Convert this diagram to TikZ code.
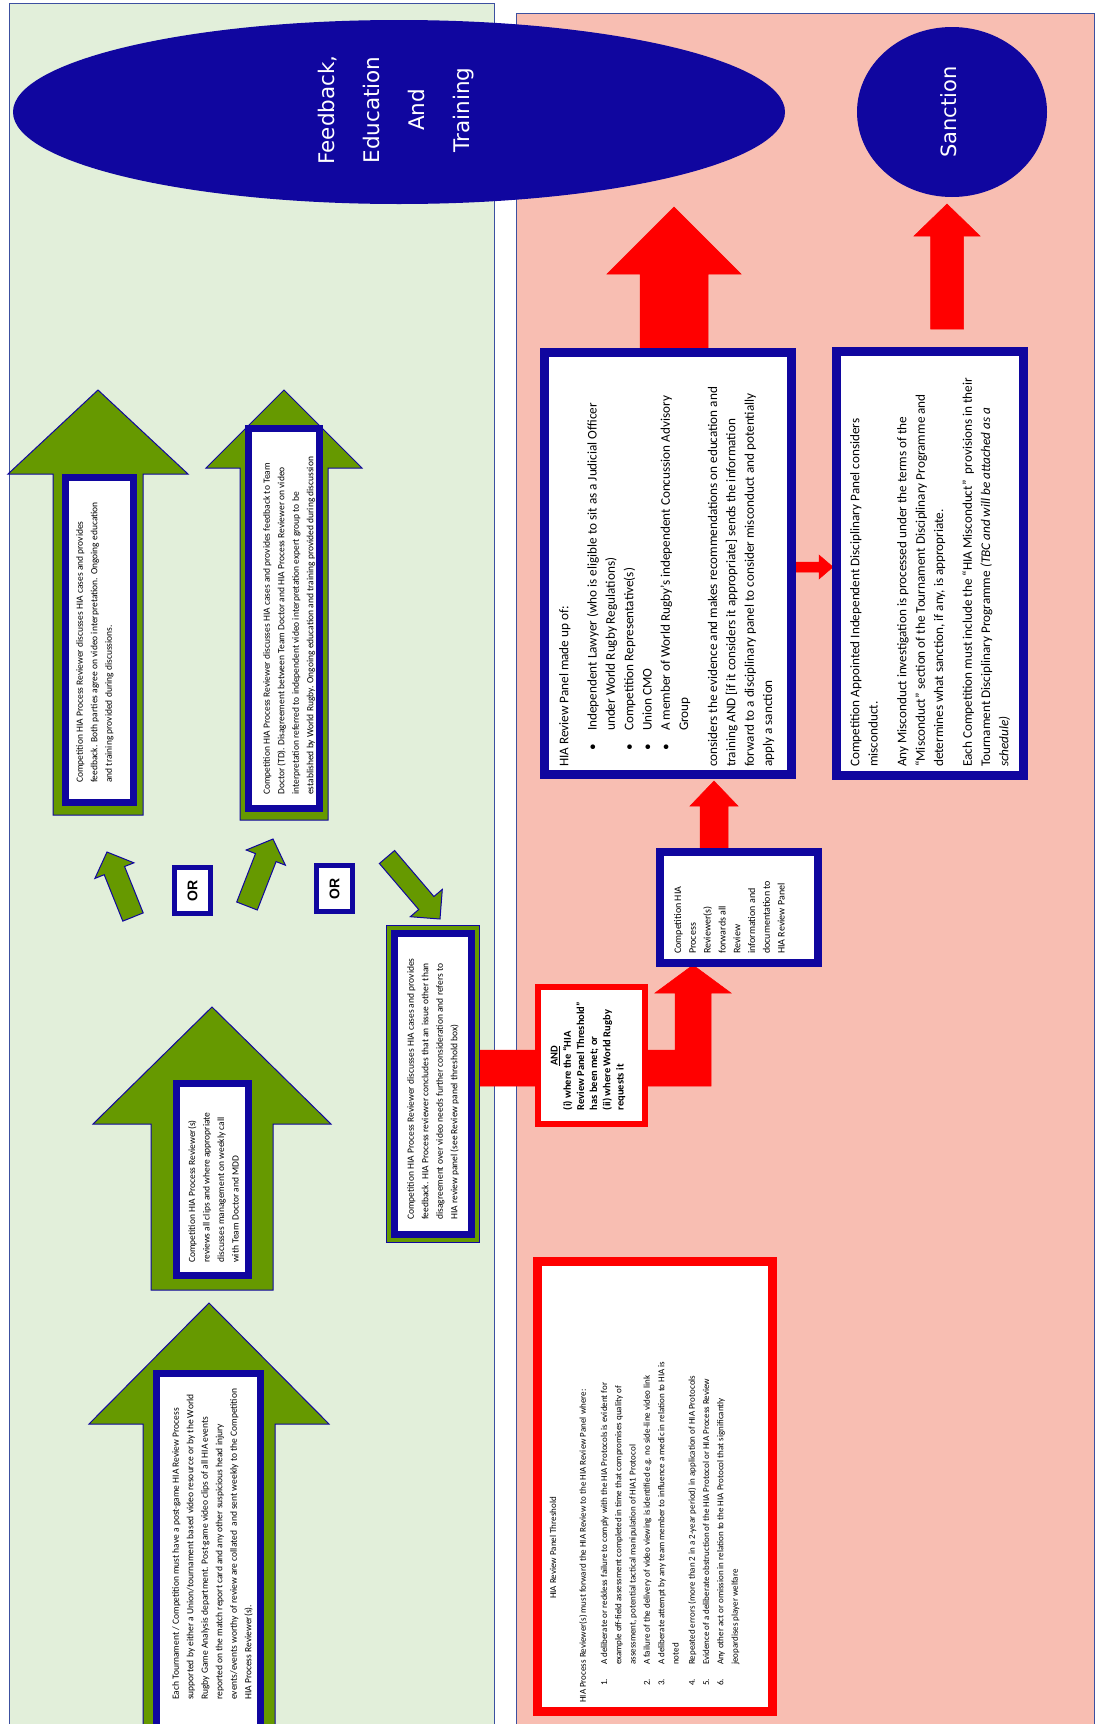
\documentclass[tikz,border=0pt]{standalone}
\usepackage{fontspec}
\setmainfont{Carlito}
\newfontfamily\verdfont{DejaVu Sans}
\newfontfamily\arialfont{Liberation Sans}
\usetikzlibrary{shapes.geometric}
\definecolor{navy}{RGB}{16,6,159}
\definecolor{garrowc}{RGB}{102,153,0}
\definecolor{greenbg}{RGB}{226,239,218}
\definecolor{pinkbg}{RGB}{248,190,178}
\definecolor{panelline}{RGB}{60,80,160}
\newcommand{\mkbox}[7]{\node[#2, line width=#3pt, inner sep=0pt, outer sep=0pt, minimum width={#6-#4-#3}, minimum height={#7-#5-#3}] (#1) at ({(#4+#6)/2},{(#5+#7)/2}) {};}
\newcommand{\bul}{\hspace*{16pt}\makebox[20pt][l]{•}}
\newcommand{\bulc}{\hspace*{36pt}}
\newcommand{\itm}[1]{\hspace*{17pt}\makebox[21pt][l]{#1}}
\newcommand{\cnt}{\hspace*{38pt}}
\begin{document}
\begin{tikzpicture}[x=1pt,y=-1pt,
  panel/.style={draw=panelline, line width=1pt},
  navybox/.style={draw=navy, fill=white, rectangle},
  redbox/.style={draw=red, fill=white, rectangle},
  greenband/.style={draw=navy, fill=garrowc, rectangle},
  garrow/.style={fill=garrowc, draw=navy, line width=1pt, line join=miter},
  rarrow/.style={fill=red, draw=red, line width=0.5pt, line join=miter},
  rt/.style={rotate=90, anchor=north west, align=left, inner sep=0pt},
  smallf/.style={font=\fontsize{9.5}{14.5}\selectfont},
  fwdf/.style={font=\fontsize{10}{14.8}\selectfont},
  threshf/.style={font=\fontsize{9}{14.3}\selectfont},
  discf/.style={font=\fontsize{13.2}{18.3}\selectfont}]
\useasboundingbox (0,0) rectangle (1097,1724);
\clip (0,0) rectangle (1097,1724);
% panels
\path[panel, fill=greenbg] (9,3) rectangle (494,1740);
\path[panel, fill=pinkbg] (516,13) rectangle (1094,1740);
% ellipses
\node[ellipse, fill=navy, inner sep=0pt, minimum width=772pt, minimum height=184pt] (fet) at (399,112) {};
\node[rotate=90, align=center, inner sep=0pt, text=white, font=\verdfont\fontsize{21.5}{45}\selectfont] (fettext) at (396,110) {Feedback,\\Education\\And\\Training};
\node[ellipse, fill=navy, inner sep=0pt, minimum width=190pt, minimum height=170pt] (sanc) at (952,112) {};
\node[rotate=90, inner sep=0pt, text=white, font=\verdfont\fontsize{21}{25}\selectfont] (sanctext) at (949,112) {Sanction};
% green arrows
\path[garrow] (143,1740) -- (143,1424) -- (89,1424) -- (209,1303) -- (329,1424) -- (275,1424) -- (275,1740) -- cycle;
\path[garrow] (151,1290) -- (151,1124) -- (93,1124) -- (212,1007) -- (331,1124) -- (273,1124) -- (273,1290) -- cycle;
\path[garrow] (53,815) -- (53,474) -- (8,474) -- (98,390) -- (188,474) -- (143,474) -- (143,815) -- cycle;
\path[garrow] (240,820) -- (240,468) -- (206,468) -- (284,390) -- (362,468) -- (328,468) -- (328,820) -- cycle;
% small green arrows
\path[garrow] (122.8,921.1) -- (104.2,874.7) -- (94.9,878.4) -- (107,852) -- (133.9,862.8) -- (124.6,866.5) -- (143.2,912.9) -- cycle;
\path[garrow] (236.7,902.0) -- (255.5,853.6) -- (246.2,850.0) -- (273,839) -- (285.4,865.2) -- (276.1,861.6) -- (257.3,910.0) -- cycle;
\path[garrow] (379.4,863.5) -- (418.7,909.5) -- (410.3,916.7) -- (440,919) -- (442.3,889.4) -- (433.9,896.5) -- (394.6,850.5) -- cycle;
% red arrows
\path[rarrow] (640,349) -- (640,274) -- (607,274) -- (674,207) -- (741,274) -- (708,274) -- (708,349) -- cycle;
\path[rarrow] (930.5,329) -- (930.5,236) -- (914,236) -- (947,204) -- (980,236) -- (963.5,236) -- (963.5,329) -- cycle;
\path[rarrow] (480,1050) -- (675,1050) -- (675,993) -- (655,993) -- (693,965) -- (731,993) -- (711,993) -- (711,1086) -- (480,1086) -- cycle;
\path[rarrow] (700,848) -- (700,806) -- (690,806) -- (714,781) -- (738,806) -- (728,806) -- (728,848) -- cycle;
\path[rarrow] (794,562) -- (819,562) -- (819,555) -- (833,567) -- (819,579) -- (819,572) -- (794,572) -- cycle;
% boxes
\mkbox{b1}{navybox}{7}{153}{1370}{264}{1745}
\mkbox{b2}{navybox}{7}{173}{1080}{252}{1279}
\mkbox{b3}{navybox}{7}{62}{474}{137}{806}
\mkbox{b4}{navybox}{7}{245}{425}{323}{812}
\mkbox{b5o}{greenband}{1}{386}{925}{480}{1243}
\mkbox{b5}{navybox}{7}{391}{930}{475}{1238}
\mkbox{or1}{navybox}{5}{172}{865}{213}{916}
\mkbox{or2}{navybox}{5}{314}{863}{355}{914}
\mkbox{andb}{redbox}{6}{535}{984}{648}{1127}
\mkbox{fwd}{navybox}{8}{656}{848}{822}{967}
\mkbox{hia}{navybox}{9}{540}{348}{796}{779}
\mkbox{disc}{navybox}{9}{832}{347}{1028}{780}
\mkbox{thr}{redbox}{9}{533}{1257}{777}{1716}
% texts
\node[rt, smallf] (t1) at (172,1700) {Each Tournament / Competition must have a post-game HIA Review Process\\
supported by either a Union/tournament based video resource or by the World\\
Rugby Game Analysis department. Post-game video clips of all HIA events\\
reported on the match report card and any other suspicious head injury\\
events/events worthy of review are collated \ and sent weekly to the Competition\\
HIA Process Reviewer(s).};
\node[rt, smallf] (t2) at (188,1263) {Competition HIA Process Reviewer(s)\\
reviews all clips and where appropriate\\
discusses management on weekly call\\
with Team Doctor and MDD};
\node[rt, smallf] (t3) at (76,783) {Competition HIA Process Reviewer discusses HIA cases and provides\\
feedback. Both parties agree on video interpretation. Ongoing education\\
and training provided during discussions.};
\node[rt, smallf] (t4) at (263,795) {Competition HIA Process Reviewer discusses HIA cases and provides feedback to Team\\
Doctor (TD). Disagreement between Team Doctor and HIA Process Reviewer on video\\
interpretation referred to independent video interpretation expert group to be\\
established by World Rugby. Ongoing education and training provided during discussion};
\node[rt, smallf] (t5) at (407,1220) {Competition HIA Process Reviewer discusses HIA cases and provides\\
feedback. HIA Process reviewer concludes that an issue other than\\
disagreement over video needs further consideration and refers to\\
HIA review panel (see Review panel threshold box)};
\node[rotate=90, inner sep=0pt, font=\arialfont\bfseries\fontsize{14}{16}\selectfont] (or1t) at (or1) {OR};
\node[rotate=90, inner sep=0pt, font=\arialfont\bfseries\fontsize{14}{16}\selectfont] (or2t) at (or2) {OR};
\node[rotate=90, inner sep=0pt, font=\bfseries\fontsize{10.5}{13.2}\selectfont] (andt) at (588,1056) {\begin{tabular}{@{}l@{}}\multicolumn{1}{@{}c@{}}{\underline{AND}}\\(i) where the “HIA\\Review Panel Threshold”\\has been met; or\\(ii) where World Rugby\\requests it\end{tabular}};
\node[rt, fwdf] (fwdt) at (674,954) {Competition HIA\\Process\\Reviewer(s)\\forwards all\\Review\\information and\\documentation to\\HIA Review Panel};
\node[rt, discf] (hiat) at (559,767) {HIA Review Panel made up of:\\[10pt]
\bul Independent Lawyer (who is eligible to sit as a Judicial Officer\\
\bulc under World Rugby Regulations)\\
\bul Competition Representative(s)\\
\bul Union CMO\\
\bul A member of World Rugby’s independent Concussion Advisory\\
\bulc Group\\[10.7pt]
considers the evidence and makes recommendations on education and\\
training AND [if it considers it appropriate] sends the information\\
forward to a disciplinary panel to consider misconduct and potentially\\
apply a sanction};
\node[rt, discf] (disct) at (850,767) {Competition Appointed Independent Disciplinary Panel considers\\
misconduct.\\[10.5pt]
Any Misconduct investigation is processed under the terms of the\\
“Misconduct” section of the Tournament Disciplinary Programme and\\
determines what sanction, if any, is appropriate.\\[10.5pt]
Each Competition must include the “HIA Misconduct” \ provisions in their\\
Tournament Disciplinary Programme \textit{(TBC and will be attached as a}\\
\textit{schedule)}};
\node[rotate=90, inner sep=0pt, threshf] (thrtitle) at (553,1548) {HIA Review Panel Threshold};
\node[rt, threshf] (thrt) at (579,1703) {HIA Process Reviewer(s) must forward the HIA Review to the HIA Review Panel where:\\[7pt]
\itm{1.}A deliberate or reckless failure to comply with the HIA Protocols is evident for\\
\cnt example off-field assessment completed in time that compromises quality of\\
\cnt assessment, potential tactical manipulation of HIA1 Protocol\\
\itm{2.}A failure of the delivery of video viewing is identified e.g. no side-line video link\\
\itm{3.}A deliberate attempt by any team member to influence a medic in relation to HIA is\\
\cnt noted\\[2pt]
\itm{4.}Repeated errors (more than 2 in a 2-year period) in application of HIA Protocols\\
\itm{5.}Evidence of a deliberate obstruction of the HIA Protocol or HIA Process Review\\
\itm{6.}Any other act or omission in relation to the HIA Protocol that significantly\\
\cnt jeopardises player welfare};
\end{tikzpicture}
\end{document}
